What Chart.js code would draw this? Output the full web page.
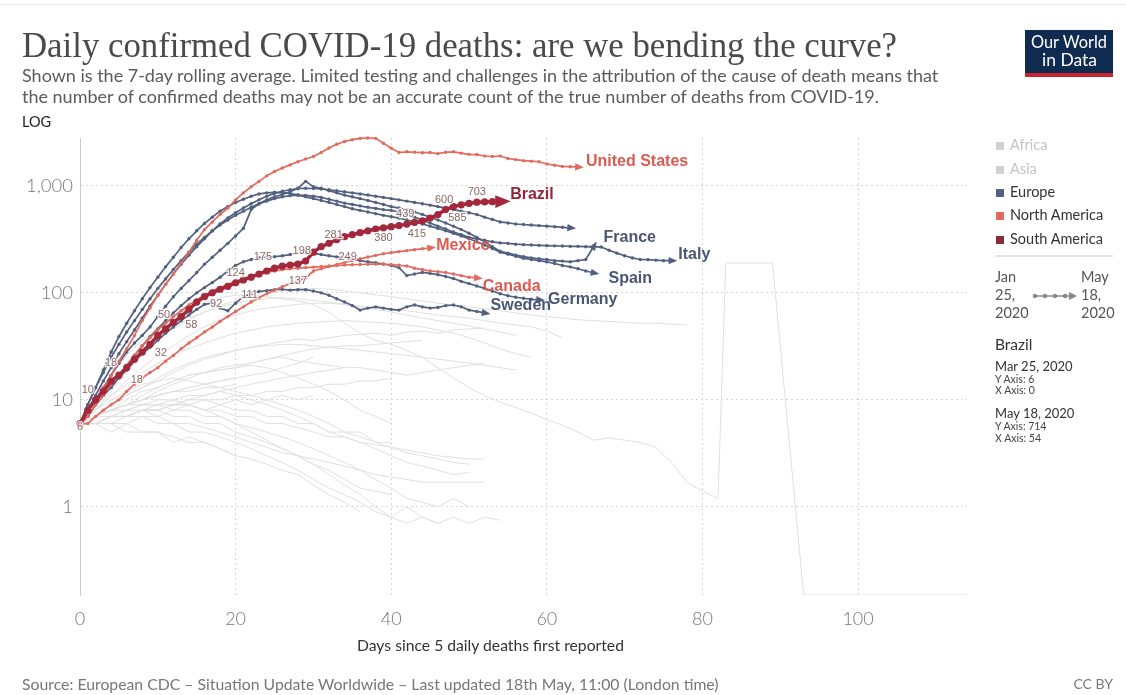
<!DOCTYPE html>
<html><head><meta charset="utf-8">
<script src="https://cdn.jsdelivr.net/npm/chart.js"></script>
<style>
html,body{margin:0;padding:0;background:#fff;}
body{width:1126px;height:695px;position:relative;overflow:hidden;font-family:Lato,"Open Sans",sans-serif;}
.t{position:absolute;white-space:nowrap;line-height:1;}
#c{position:absolute;left:0;top:0;}
</style></head><body>
<canvas id="c" width="1126" height="695" style="width:1126px;height:695px"></canvas>
<script>
// ---------------- DATA ----------------
const xTicks = [0, 20, 40, 60, 80, 100];
const yTicks = [1, 10, 100, 1000];

// highlighted countries: 7-day rolling average, one value per day from day 0
const unitedStates = [6,8,10,13,17,23,30,40,55,72, 95,120,150,190,240,310,390,460,540,620,
  740,860,980,1100,1240,1360,1470,1570,1680,1780, 1880,2050,2260,2450,2600,2700,2780,2800,2780,2500,
  2250,2050,2080,2060,2040,2050,2000,2060,2080,2020, 1970,1960,1900,1880,1900,1800,1760,1720,1700,1680,
  1600,1560,1520,1510,1500];
const brazil = [6,8,10,12,15,17,20,24,28,33, 40,46,53,60,70,82,92,100,108,115,
  124,132,140,150,160,170,178,182,186,198, 240,270,290,315,335,350,365,380,395,405,
  415,425,439,455,470,500,540,600,640,665, 685,703,708,712,714];
const mexico = [6,6,7,8,9,10,12,14,16,18, 20,23,26,30,34,38,43,48,54,60,
  67,74,82,90,98,106,114,122,130,137, 160,168,176,184,192,200,208,216,224,232,
  238,243,248,253,258,263];
const canada = [6,7,9,11,14,17,21,26,32,38, 45,52,60,68,77,86,95,104,112,120,
  128,136,143,150,156,160,165,168,170,172, 174,176,178,180,182,183,184,185,186,185,
  184,181,178,170,165,160,158,155,150,145, 140,138];
const italy = [6,9,13,18,25,33,43,55,70,88, 110,135,165,200,240,285,330,380,430,480,
  530,580,630,680,720,760,790,810,820,815, 800,780,750,720,690,670,650,630,615,600,
  590,570,540,510,480,450,420,395,370,350, 330,320,310,300,293,290,285,282,280,278,
  276,275,274,272,272,270,270,268,250,235, 222,212,205,204,202,200,200];
const spain = [6,9,13,19,28,39,52,68,88,112, 140,175,215,265,320,380,445,510,580,640,
  700,750,800,840,860,870,865,850,820,790, 760,730,700,670,640,610,590,570,550,530,
  515,500,480,460,440,420,400,380,360,340, 320,300,280,260,240,230,220,210,205,200,
  195,188,180,175,168,160,154];
const france = [6,8,10,13,17,22,28,34,40,48, 60,75,92,110,130,155,185,215,250,290,
  340,400,600,680,740,790,830,880,950,1100, 980,950,900,860,820,790,760,730,700,670,
  640,620,600,570,540,510,480,450,420,390, 360,330,300,270,245,235,225,218,212,208,
  205,200,198,195,200,205,270];
const unitedKingdom = [6,8,11,15,20,27,35,45,58,75, 95,120,150,185,225,270,320,380,440,500,
  560,620,680,740,800,850,890,920,940,950, 945,935,920,900,880,860,840,820,800,780,
  760,740,720,700,680,660,640,620,600,580, 560,540,510,485,460,450,440,435,430,425,
  420,415,410,405];
const germany = [6,7,9,11,14,17,21,26,32,39, 46,55,65,76,88,100,112,125,140,160,
  180,195,205,212,216,218,222,228,235,238, 235,228,222,217,212,206,200,195,191,186,
  180,172,145,150,155,152,148,142,136,128, 122,116,110,104,98,94,91,89,87,86];
const sweden = [6,7,9,11,13,16,19,23,27,31, 36,42,48,55,62,70,78,80,72,68,
  80,92,98,103,105,107,108,106,107,107, 104,100,95,88,82,76,69,72,74,72,
  70,69,74,77,74,72,73,76,77,74, 69,67,65];

// faded (Africa / Asia) lines: one value every 2 days from day 0
const grayStep = 2;
const grayA = [6,8,12,18,26,36,46,56,66,76,84,92,98,104,108,110,108,104,100,96,92,88,84,80,77,74,71,68,65,62,60,58,56,55,54,53,52,52,51,50];
const grayB = [6,9,14,20,28,38,48,58,66,74,80,85,88,90,88,85,82,78,74,70,66,62,58,55,52,49,46,43,40];
const grayC = [6,7,9,11,13,15,18,21,24,26,29,31,33,35,37,36,38,40,41,42,40,43,44,42,45,46,47];
const grayD = [6,7,8,10,12,13,15,17,18,20,21,22,24,25,23,22,21,20,20,19,18,17,18,19,20,21,22];
const grayE = [6,6,7,8,9,9,10,11,11,12,11,10,9,8,7,6,5,4.5,4,3.5,3,2.6,2.4,2.2,2,2.1];
const grayF = [6,6,7,7,8,8,9,9,10,10,11,11,12,12,13,13,14,14,15,15,16];
const grayG = [6,8,10,12,14,15,16,15,14,13,12,11,10,9,8,7,6,5,4.5,4,3.6,3.2,3,2.8,2.6,2.5];
const grayH = [6,7,8,9,10,11,12,13,14,15,16,17,18,20,22,25];
const grayI = [6,7,8,9,11,13,15,17,18,19,20,21,20,18,16,14,12,10,8,7,6];
const grayJ = [6,7,8,9,10,12,14,16,18,19,20,22,24,26,28,30,31,32,32,33,34,35,36];
const grayK = [6,6,7,7,8,7,8,9,8,9,10,9,10,11,10,11];
const grayL = [6,6,5,6,5,5,4,4.5,4,3.5,3];
const grayM = [6,7,8,9,9,10,10,9,8,7,6,5,4.2,3.5,3,2.5,2.2,1.8,1.5,1.4,1.3];
const grayN = [6,6,6,7,7,6,6,5,5,4.5,4,3.5,3,2.6,2.2,1.8,1.5,1.3,1.1,0.9,0.8,1.0,0.8,0.7,0.8,0.7,0.8,0.75];
const grayO = [6,7,8,9,10,11,12,13,14,15,16];
const grayP = [6,7,7,8,8,9,8,8,7,7,6,5.5,5,4.5,4,3.5,3,2.6,2.2,1.8,1.5,1.2,1.1,1.0,1.2,1.0];
const grayQ = [6,6,7,7,8,8,7,7,6,6,5,4.5,4,3.5,3,2.5,2,1.6,1.3,1.0,0.8,0.7,0.8,0.7];
const grayR = [6,7,8,9,10,11,12,12,13,13,14];
const grayS = [6,6,6,5,5,5,4.5,4,4,3.5,3,2.8,2.5,2.2,2,1.6,1.3,1.1,0.9];
const grayT = [6,7,8,8,9,9,9,10,10,9,8,8,7,7,6,6,5,5,5,4,4];
const grayU = [6,8,11,15,20,26,32,40,48,56,62,68,72,75,78,80,80,78,75,72,70,68,65,62,60,58,55,52,50,48,44,38];
const grayV = [6,6,7,7,8,8,9,9,8,8,7,7,6,6,5.5,5,4.5,4.5,4,3.8,3.6,3.4,3.2,3,2.9,2.8,2.8];
const grayW = [6,6,6,6,7,7,6,6,5.5,5,4.5,4,3.6,3.2,3,2.8,2.6,2.4,2.2,2,1.9,1.8,1.7,1.7,1.7,1.7,1.7];
const grayX = [6,8,11,14,18,22,26,30,34,38,42,45,48,50,52,53,54,55,54,53,52,50,48,45,42,38,34,30,27,25];
const grayY = [6,7,9,11,13,16,19,22,25,27,29,31,32,33,33,32,31,30,29,28,27,26,25,24,23,22,21,20,19];
const grayZ = [6,6,7,7,8,8,9,10,11,12,13,14,15,16,17,18,19,20];
// faded line with irregular reporting days
const chinaDays = [0,2,4,6,8,10,12,14,16,18,20,22,24,26,28,30,32,34,36,38,40,42,44,46,48,50,52,54,56,58,60,62,64,66,68,70,72,74,76,78,80,82,83,89,93,114];
const chinaValues = [6,10,17,26,36,48,60,72,82,90, 95,96,92,88,84,78,66,52,42,36, 33,29,25,20,16,13,11,9.5,8.5,7.5, 6.5,5.8,5,4.2,4.4,4.2,4,3.6,2.6,1.7, 1.4,1.2,190,190,0.15,0.15];

// value labels shown along the highlighted path
const markDays   = [0,1,4,7.3,10.4,10.8,14.3,17.5,20,21.8,23.5,28,28.5,32.6,34.4,39,41.8,43.3,46.8,48.5,51];
const markValues = [6,10,18,18,32,50,58,92,124,111,175,137,198,281,249,380,439,415,600,585,703];
const markSides  = [0,1,1,-1,-1,1,-1,-1,1,-1,1,0,1,1,-1,-1,1,-1,1,-1,1];

// ---------------- STYLE ----------------
const EU = '#52617f', EU_TXT = '#4a5674';
const NA = '#e26a5e', NA_TXT = '#dc5a4f';
const SA = '#a3283c', SA_TXT = '#982439';
const GRAY = '#e0e0e0';

function daily(arr){ return arr.map((v,i)=>({x:i, y:v})); }
function stepped(arr, step){ return arr.map((v,i)=>({x:i*step, y:v})); }

const datasets = [];
[grayA,grayB,grayC,grayD,grayE,grayF,grayG,grayH,grayI,grayJ,grayK,grayL,grayM,grayN,grayO,grayP,grayQ,grayR,grayS,grayT,grayU,grayV,grayW,grayX,grayY,grayZ]
 .forEach((g,k)=>datasets.push({label:'faded'+k, data:stepped(g,grayStep), borderColor:GRAY, borderWidth:1, pointRadius:0, order:20}));
datasets.push({label:'faded-china', data:chinaDays.map((d,i)=>({x:d,y:chinaValues[i]})), borderColor:GRAY, borderWidth:1, pointRadius:0, order:20});

const colored = [
  {label:'United Kingdom', arr:unitedKingdom, c:EU, tc:EU_TXT, show:false, dx:0, dy:0},
  {label:'Germany', arr:germany, c:EU, tc:EU_TXT, show:true, dx:9, dy:0},
  {label:'Sweden', arr:sweden, c:EU, tc:EU_TXT, show:true, dx:6, dy:-7},
  {label:'Spain', arr:spain, c:EU, tc:EU_TXT, show:true, dx:15, dy:6},
  {label:'France', arr:france, c:EU, tc:EU_TXT, show:true, dx:10, dy:-9},
  {label:'Italy', arr:italy, c:EU, tc:EU_TXT, show:true, dx:7, dy:-6},
  {label:'Canada', arr:canada, c:NA, tc:NA_TXT, show:true, dx:6, dy:9},
  {label:'Mexico', arr:mexico, c:NA, tc:NA_TXT, show:true, dx:6, dy:-2},
  {label:'United States', arr:unitedStates, c:NA, tc:NA_TXT, show:true, dx:8, dy:-5},
];
colored.forEach((s,k)=>datasets.push({label:s.label, data:daily(s.arr), borderColor:s.c, backgroundColor:s.c,
  borderWidth:1.7, pointRadius:1.7, pointBorderWidth:0, pointBackgroundColor:s.c, order:10-k*0.1, clip:6,
  arrowSize:8, nameColor:s.tc, showName:s.show, nameDx:s.dx, nameDy:s.dy}));
datasets.push({label:'Brazil', data:daily(brazil), borderColor:SA, backgroundColor:SA, borderWidth:3.5,
  pointRadius:3.6, pointBorderWidth:0, pointBackgroundColor:SA, order:1, clip:6,
  arrowSize:14, nameColor:SA_TXT, showName:true, nameDx:10, nameDy:-7});

const overlay = {
  id:'overlay',
  afterDatasetsDraw(chart){
    const ctx = chart.ctx, xs = chart.scales.x, ys = chart.scales.y;
    chart.data.datasets.forEach((ds,i)=>{
      if(!ds.arrowSize) return;
      const pts = chart.getDatasetMeta(i).data, n = pts.length;
      const p = pts[n-1], q = pts[n-2];
      const a = Math.atan2(p.y-q.y, p.x-q.x), L = ds.arrowSize;
      ctx.save(); ctx.fillStyle = ds.borderColor; ctx.translate(p.x,p.y); ctx.rotate(a);
      ctx.beginPath(); ctx.moveTo(L*0.75,0); ctx.lineTo(-L*0.35,-L*0.45); ctx.lineTo(-L*0.35,L*0.45); ctx.closePath(); ctx.fill();
      ctx.restore();
      if(ds.showName){
        ctx.save(); ctx.font = 'bold 16px "Liberation Sans", Arial, sans-serif';
        ctx.fillStyle = ds.nameColor; ctx.textBaseline = 'middle'; ctx.textAlign='left';
        ctx.fillText(ds.label, p.x+ds.nameDx, p.y+ds.nameDy); ctx.restore();
      }
    });
    ctx.save(); ctx.font = '11px "Liberation Sans", Arial, sans-serif';
    ctx.textAlign='center'; ctx.textBaseline='middle';
    ctx.lineWidth = 2.5; ctx.strokeStyle='rgba(255,255,255,0.85)'; ctx.fillStyle='#8c6868';
    markDays.forEach((d,i)=>{
      const x = xs.getPixelForValue(d), y = ys.getPixelForValue(markValues[i]);
      const off = markSides[i]>0 ? -10 : (markSides[i]<0 ? 7 : 3);
      ctx.strokeText(String(markValues[i]), x, y+off);
      ctx.fillText(String(markValues[i]), x, y+off);
    });
    ctx.restore();
  }
};

new Chart(document.getElementById('c'), {
  type:'line',
  data:{datasets},
  options:{
    responsive:false, animation:false, devicePixelRatio:1, events:[],
    layout:{padding:{left:0, top:138, right:159, bottom:60}},
    plugins:{legend:{display:false}, tooltip:{enabled:false}},
    elements:{line:{tension:0}},
    scales:{
      x:{type:'linear', min:0, max:114,
        afterBuildTicks:s=>{ s.ticks = xTicks.map(v=>({value:v})); },
        afterFit:s=>{ s.height = 40; },
        grid:{color:'#d6d6d6', lineWidth:1, drawTicks:false},
        border:{display:false, dash:[2,3]},
        ticks:{padding:13, color:'#777', autoSkip:false, maxRotation:0, font:{family:'Lato', size:18, weight:'300'}}
      },
      y:{type:'logarithmic', min:0.15, max:2800,
        afterBuildTicks:s=>{ s.ticks = yTicks.map(v=>({value:v})); },
        afterFit:s=>{ s.width = 80; },
        grid:{color:'#d6d6d6', lineWidth:1, drawTicks:false},
        border:{display:true, color:'#cccccc', width:1, dash:[2,3]},
        ticks:{padding:7, color:'#777', autoSkip:false, font:{family:'Lato', size:18.5, weight:'300'},
          callback:v=>Number(v).toLocaleString('en-US')}
      }
    }
  },
  plugins:[overlay]
});

// ---------------- TEXT ----------------
function put(txt, o){
  const d = document.createElement('div'); d.className='t'; d.textContent = txt;
  d.style.fontFamily = o.f || 'Lato, sans-serif'; d.style.fontSize = o.s+'px';
  d.style.color = o.c || '#333'; d.style.fontWeight = o.w || 400;
  document.body.appendChild(d);
  let s = o.s;
  if(o.fit){ for(let k=0;k<3;k++){ const w = d.getBoundingClientRect().width; s = s*o.fit/w; d.style.fontSize = s+'px'; } }
  const top = (o.base!=null) ? o.base - (o.asc||0.8375)*s : o.cy - 0.55*s;
  d.style.top = top+'px';
  if(o.r!=null) d.style.right = (1126-o.r)+'px'; else d.style.left = o.x+'px';
  return s;
}
function box(x,y,w,h,bg){ const d=document.createElement('div'); d.style.cssText=`position:absolute;left:${x}px;top:${y}px;width:${w}px;height:${h}px;background:${bg}`; document.body.appendChild(d); return d; }

box(0,4,1126,1,'#ececec');
put('Daily confirmed COVID-19 deaths: are we bending the curve?', {x:22, base:58, s:32, f:'"Liberation Serif", serif', c:'#4a4a4a', fit:875});
const ss = put('Shown is the 7-day rolling average. Limited testing and challenges in the attribution of the cause of death means that', {x:22, cy:76, s:15.5, c:'#5b5b5b', fit:916});
put('the number of confirmed deaths may not be an accurate count of the true number of deaths from COVID-19.', {x:22, cy:97, s:ss, c:'#5b5b5b'});
put('LOG', {x:22, cy:123, s:14.5, c:'#222'});
put('Days since 5 daily deaths first reported', {x:357, cy:646, s:14, c:'#333', fit:267});
put('Source: European CDC – Situation Update Worldwide – Last updated 18th May, 11:00 (London time)', {x:22, cy:685, s:14, c:'#777', fit:696});
put('CC BY', {r:1113, cy:685, s:14, c:'#777'});

// logo
box(1025,30,88,47,'#0f2b50');
box(1025,73,88,4,'#c8232e');
put('Our World', {x:1031, cy:43, s:15, c:'#fff', fit:76});
put('in Data', {x:1042, cy:61, s:15, c:'#fff', fit:55});

// legend
const legendItems = [['Africa','#d0d0d0','#c4c4c4',146],['Asia','#d0d0d0','#c4c4c4',170],['Europe',EU,'#333',193],['North America',NA,'#333',216],['South America','#8d2a3d','#333',240]];
legendItems.forEach(([t,sq,tc,cy])=>{ box(996,cy-4,8,8,sq); put(t,{x:1010, cy:cy, s:14.5, c:tc}); });
box(995,255,118,2,'#e4e4e4');
put('Jan',{x:995,cy:278,s:14.5,c:'#555'}); put('25,',{x:995,cy:296,s:14.5,c:'#555'}); put('2020',{x:995,cy:314,s:14.5,c:'#555'});
put('May',{x:1081,cy:278,s:14.5,c:'#555'}); put('18,',{x:1081,cy:296,s:14.5,c:'#555'}); put('2020',{x:1081,cy:314,s:14.5,c:'#555'});
const sv = document.createElementNS('http://www.w3.org/2000/svg','svg');
sv.setAttribute('width','48'); sv.setAttribute('height','10');
sv.style.cssText='position:absolute;left:1031px;top:291px';
sv.innerHTML='<line x1="3" y1="5" x2="40" y2="5" stroke="#888" stroke-width="1.3"/><circle cx="4" cy="5" r="2.2" fill="#888"/><circle cx="14" cy="5" r="2.2" fill="#888"/><circle cx="24" cy="5" r="2.2" fill="#888"/><circle cx="34" cy="5" r="2.2" fill="#888"/><polygon points="38,1 46,5 38,9" fill="#888"/>';
document.body.appendChild(sv);
put('Brazil',{x:995,cy:346,s:15.5,c:'#333'});
put('Mar 25, 2020',{x:995,cy:367,s:13,c:'#333'});
put('Y Axis: 6',{x:995,cy:380,s:10.5,c:'#444'});
put('X Axis: 0',{x:995,cy:391,s:10.5,c:'#444'});
put('May 18, 2020',{x:995,cy:414,s:13,c:'#333'});
put('Y Axis: 714',{x:995,cy:427,s:10.5,c:'#444'});
put('X Axis: 54',{x:995,cy:439,s:10.5,c:'#444'});
</script>
</body></html>
